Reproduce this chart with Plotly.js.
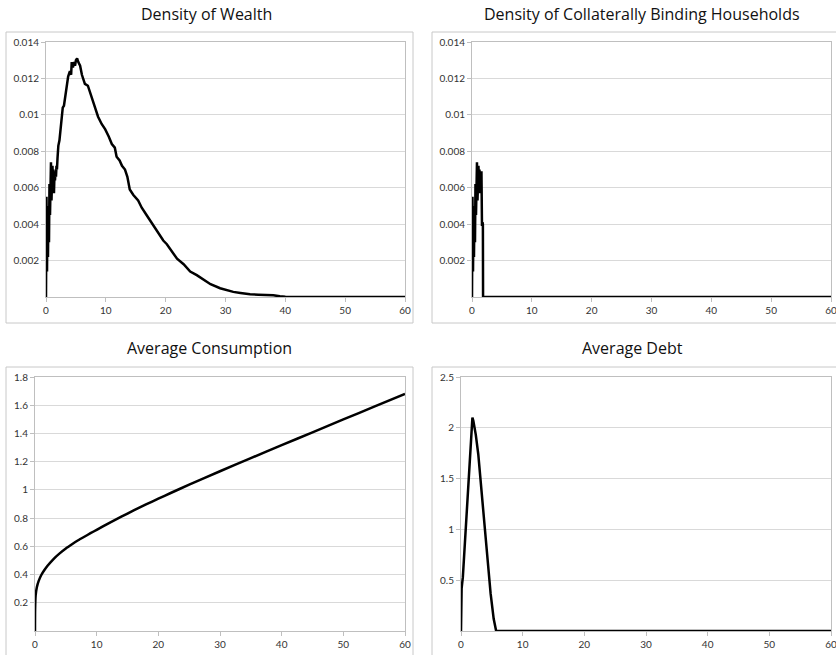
<!DOCTYPE html>
<html>
<head>
<meta charset="utf-8">
<script src="https://cdn.plot.ly/plotly-3.0.1.min.js"></script>
<style>html,body{margin:0;padding:0;background:#fff;}#chart{width:836px;height:655px;}</style>
</head>
<body>
<div id="chart"></div>
<script>
// ---- Data ----
var titles = ["Density of Wealth", "Density of Collaterally Binding Households", "Average Consumption", "Average Debt"];
var xTicks = [0, 10, 20, 30, 40, 50, 60];
var densTicks = [0.002, 0.004, 0.006, 0.008, 0.01, 0.012, 0.014];
var consTicks = [0.2, 0.4, 0.6, 0.8, 1, 1.2, 1.4, 1.6, 1.8];
var debtTicks = [0.5, 1, 1.5, 2, 2.5];

var wealthX = [0, 0.08, 0.17, 0.25, 0.33, 0.42, 0.5, 0.58, 0.67, 0.75, 0.83, 0.92, 1.0, 1.08, 1.17, 1.25, 1.33, 1.42, 1.5, 1.58,
  1.67, 1.75, 1.83, 1.92, 2.06, 2.25, 2.45, 2.6, 2.8, 3.0, 3.2, 3.45, 3.7, 4.0, 4.2, 4.3, 4.5, 4.7, 4.85, 5.0, 5.2, 5.4, 5.7,
  6.0, 6.5, 7.0, 7.6, 8.2, 8.7, 9.3, 9.9, 10.5, 11.0, 11.5, 11.8, 12.3, 12.7, 13.2, 13.6, 14.0, 14.6, 15.4, 16.0, 16.8, 17.4,
  18.5, 19.6, 20.2, 21.0, 21.9, 23.0, 24.1, 25.2, 26.3, 27.5, 29.1, 30.2, 31.3, 32.5, 34.1, 35.5, 36.9, 38.0, 39.1, 40, 45, 50, 55, 60];
var wealthY = [0, 0.0055, 0.0014, 0.0048, 0.0022, 0.0050, 0.0030, 0.0062, 0.0045, 0.0072, 0.0074, 0.0053, 0.0060, 0.0072, 0.0062, 0.0070, 0.0057, 0.0068, 0.0064, 0.0069,
  0.0066, 0.0072, 0.0070, 0.0076, 0.0083, 0.0086, 0.0092, 0.0100, 0.0104, 0.0105, 0.0110, 0.0117, 0.0121, 0.0124, 0.0122, 0.0129, 0.0126, 0.0129, 0.0127, 0.0130, 0.0131, 0.0129, 0.0127,
  0.0122, 0.0117, 0.0116, 0.0110, 0.0104, 0.0099, 0.0095, 0.0092, 0.0088, 0.0084, 0.0082, 0.0077, 0.0075, 0.0072, 0.0070, 0.0066, 0.0059, 0.0056, 0.0053, 0.0049, 0.0045, 0.0042,
  0.0036, 0.0031, 0.0029, 0.0025, 0.0021, 0.0018, 0.0014, 0.0012, 0.00094, 0.0007, 0.00048, 0.00036, 0.00028, 0.00022, 0.00015, 0.00013, 0.00013, 0.00009, 0.00004, 0.00001, 0, 0, 0, 0];

var bindX = [0, 0.08, 0.17, 0.25, 0.33, 0.42, 0.5, 0.58, 0.67, 0.75, 0.83, 0.92, 1.0, 1.08, 1.17, 1.25, 1.33, 1.42, 1.5, 1.58,
  1.67, 1.75, 1.82, 1.85, 10, 20, 30, 40, 50, 60];
var bindY = [0, 0.0055, 0.0014, 0.0048, 0.0022, 0.0050, 0.0030, 0.0062, 0.0045, 0.0072, 0.0074, 0.0053, 0.0060, 0.0072, 0.0062, 0.0070, 0.0057, 0.0068, 0.0064, 0.0069,
  0.0039, 0.0041, 0.0040, 0, 0, 0, 0, 0, 0, 0];

var consX = [0, 0.02, 0.1, 0.3, 0.6, 1.0, 1.5, 2, 3, 4, 5, 6, 7, 8, 9, 10, 12, 14, 16, 18, 20, 22, 25, 30, 35, 40, 45, 50, 55, 60];
var consY = [0, 0.15, 0.25, 0.31, 0.355, 0.395, 0.43, 0.46, 0.51, 0.55, 0.585, 0.615, 0.643, 0.668, 0.693, 0.717, 0.765, 0.81, 0.855, 0.897, 0.938, 0.978, 1.037, 1.132, 1.225, 1.317, 1.408, 1.499, 1.59, 1.68];

var debtX = [0, 0.1, 0.3, 0.8, 1.3, 1.7, 1.85, 2.0, 2.4, 2.8, 3.3, 3.9, 4.4, 4.8, 5.3, 5.7, 6, 10, 20, 30, 40, 50, 60];
var debtY = [0, 0.42, 0.53, 1.01, 1.54, 1.97, 2.10, 2.07, 1.93, 1.74, 1.40, 0.99, 0.65, 0.37, 0.12, 0, 0, 0, 0, 0, 0, 0, 0];

// ---- Layout helpers (pixel geometry of the 836x655 page) ----
var W = 836, H = 655;
function dx(a, b) { return [a / W, b / W]; }
function dy(top, bottom) { return [1 - bottom / H, 1 - top / H]; }

var tickFont = {family: "Lato, 'Open Sans', sans-serif", size: 10, color: "#333333"};
function xa(dom, anchor) {
  return {domain: dom, anchor: anchor, range: [0, 60], tickvals: xTicks, ticks: "outside", ticklen: 4,
    tickcolor: "#bfbfbf", showline: true, linecolor: "#bfbfbf", linewidth: 1, mirror: true,
    showgrid: false, zeroline: false, tickfont: tickFont, ticklabeloverflow: "allow", fixedrange: true};
}
function ya(dom, anchor, range, tv) {
  return {domain: dom, anchor: anchor, range: range, tickvals: tv, ticks: "outside", ticklen: 4,
    tickcolor: "#bfbfbf", showline: true, linecolor: "#bfbfbf", linewidth: 1, mirror: true,
    showgrid: true, gridcolor: "#d9d9d9", gridwidth: 1, zeroline: false, tickfont: tickFont, fixedrange: true};
}

var line = {color: "#000000", width: 2.5};
var traces = [
  {x: wealthX, y: wealthY, xaxis: "x", yaxis: "y", mode: "lines", line: line, hoverinfo: "none"},
  {x: bindX, y: bindY, xaxis: "x2", yaxis: "y2", mode: "lines", line: line, hoverinfo: "none"},
  {x: consX, y: consY, xaxis: "x3", yaxis: "y3", mode: "lines", line: {color: "#000", width: 2.5, shape: "spline", smoothing: 0.5}, hoverinfo: "none"},
  {x: debtX, y: debtY, xaxis: "x4", yaxis: "y4", mode: "lines", line: line, hoverinfo: "none"}
];

var topY = dy(42, 297), botY = dy(377, 631);
var titleFont = {family: "'Open Sans', 'Noto Sans', sans-serif", size: 16, color: "#111"};
function ann(text, px, py) {
  return {text: text, x: px / W, y: 1 - py / H, xref: "paper", yref: "paper", xanchor: "center", yanchor: "middle",
    showarrow: false, font: titleFont};
}
function box(x0, y0, x1, y1) {
  return {type: "rect", xref: "paper", yref: "paper", x0: x0 / W, x1: x1 / W, y0: 1 - y1 / H, y1: 1 - y0 / H,
    line: {color: "#c8c8c8", width: 1}, fillcolor: "rgba(0,0,0,0)", layer: "below"};
}

var layout = {
  width: W, height: H, margin: {l: 0, r: 0, t: 0, b: 0}, showlegend: false,
  paper_bgcolor: "#fff", plot_bgcolor: "#fff",
  xaxis: xa(dx(46, 405), "y"), yaxis: ya(topY, "x", [0, 0.014], densTicks),
  xaxis2: xa(dx(472, 831), "y2"), yaxis2: ya(topY, "x2", [0, 0.014], densTicks),
  xaxis3: xa(dx(35, 405), "y3"), yaxis3: ya(botY, "x3", [0, 1.8], consTicks),
  xaxis4: xa(dx(461, 831), "y4"), yaxis4: ya(botY, "x4", [0, 2.5], debtTicks),
  annotations: [ann(titles[0], 206, 14), ann(titles[1], 642, 14), ann(titles[2], 210, 348), ann(titles[3], 632, 348)],
  shapes: [box(6, 32, 413, 323), box(432, 32, 845, 323), box(6, 367, 413, 665), box(432, 367, 845, 665)]
};

Plotly.newPlot("chart", traces, layout, {staticPlot: true, displayModeBar: false});
</script>
</body>
</html>
